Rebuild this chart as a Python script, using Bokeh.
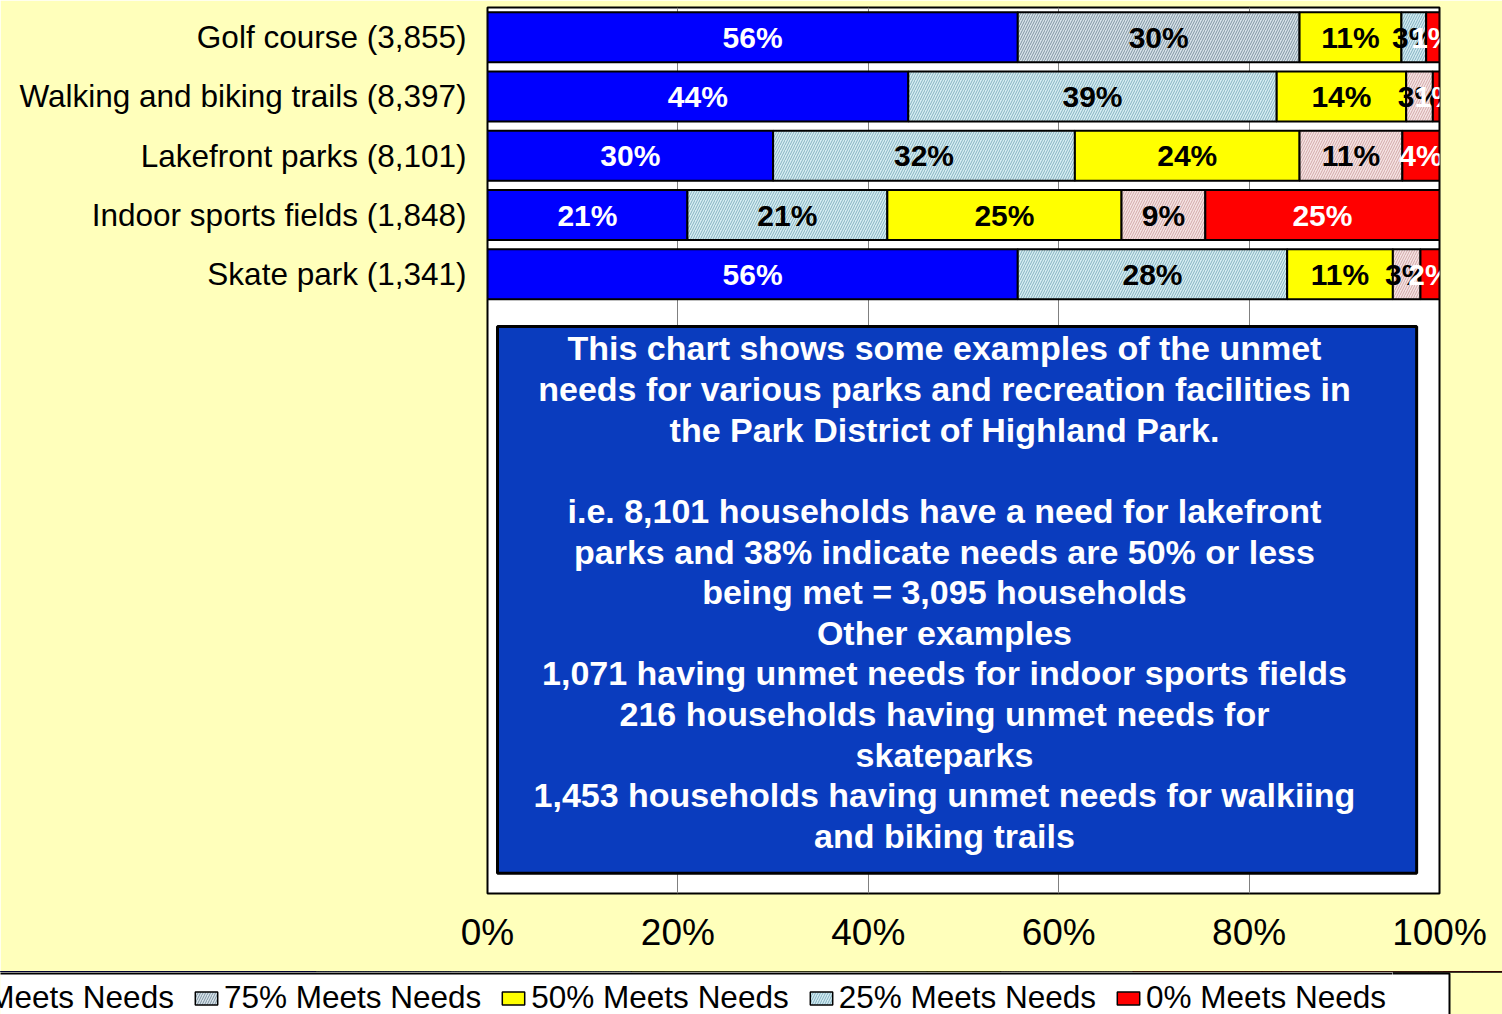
from bokeh.plotting import figure
from bokeh.models import (ColumnDataSource, Range1d, FixedTicker, Legend, LegendItem,
                          BoxAnnotation, Label)
from bokeh.embed import file_html
from bokeh.resources import INLINE
from bokeh.core.properties import value
import numpy as np

# ---------------- data ----------------
categories = ["Golf course (3,855)", "Walking and biking trails (8,397)",
              "Lakefront parks (8,101)", "Indoor sports fields (1,848)",
              "Skate park (1,341)"]
series_names = ["100% Meets Needs", "75% Meets Needs", "50% Meets Needs",
                "25% Meets Needs", "0% Meets Needs"]
meets_100 = [55.7, 44.2, 30.0, 21.0, 55.7]
meets_75 = [29.6, 38.7, 31.7, 21.0, 28.3]
meets_50 = [10.7, 13.6, 23.6, 24.6, 11.1]
meets_25 = [2.6, 2.8, 10.8, 8.8, 2.9]
meets_0 = [1.4, 0.7, 3.9, 24.6, 2.0]
x_ticks = [0, 20, 40, 60, 80, 100]
x_tick_labels = ["0%", "20%", "40%", "60%", "80%", "100%"]
note_lines = [
    "This chart shows some examples of the unmet",
    "needs for various parks and recreation facilities in",
    "the Park District of Highland Park.",
    "",
    "i.e. 8,101 households have a need for lakefront",
    "parks and 38% indicate needs are 50% or less",
    "being met = 3,095 households",
    "Other examples",
    "1,071 having unmet needs for indoor sports fields",
    "216 households having unmet needs for",
    "skateparks",
    "1,453 households having unmet needs for walkiing",
    "and biking trails",
]

# ---------------- styles ----------------
FONT = "Liberation Sans"
BG = "#ffffbb"
fills = [
    ["#0000ff"] * 5,
    ["#d9e3ea"] + ["#d8eef3"] * 4,
    ["#ffff00"] * 5,
    ["#d3ebf2"] + ["#f6e4e4"] * 4,
    ["#ff0000"] * 5,
]
hatch_cols = [
    ["#0000ff"] * 5,
    ["#67808f"] + ["#6fa3b3"] * 4,
    ["#ffff00"] * 5,
    ["#6fa3b3"] + ["#c79a9a"] * 4,
    ["#ff0000"] * 5,
]
hatches = [None, "/", None, "/", None]
text_colors = ["white", "black", "black", "black", "white"]

vals = np.array([meets_100, meets_75, meets_50, meets_25, meets_0], dtype=float)
rights = np.cumsum(vals, axis=0)
lefts = rights - vals
ypos = np.arange(len(categories)) + 0.5

# ---------------- main chart ----------------
p = figure(width=1502, height=971, output_backend="svg", toolbar_location=None,
           x_range=Range1d(0, 100), y_range=Range1d(14.94, 0),
           min_border_left=487, min_border_right=63, min_border_top=7,
           min_border_bottom=78)
p.border_fill_color = BG
p.background_fill_color = "white"
p.outline_line_color = "black"
p.outline_line_width = 2

p.xgrid.ticker = FixedTicker(ticks=x_ticks)
p.xgrid.grid_line_color = "#808080"
p.xgrid.grid_line_width = 1
p.ygrid.visible = False

p.xaxis.ticker = FixedTicker(ticks=x_ticks)
p.xaxis.major_label_overrides = {t: l for t, l in zip(x_ticks, x_tick_labels)}
p.yaxis.ticker = FixedTicker(ticks=list(ypos))
p.yaxis.major_label_overrides = {float(y): c for y, c in zip(ypos, categories)}
for ax in (p.xaxis, p.yaxis):
    ax.axis_line_color = None
    ax.major_tick_line_color = None
    ax.minor_tick_line_color = None
    ax.major_label_text_font = FONT
    ax.major_label_text_color = "black"
p.xaxis.major_label_text_font_size = "37px"
p.xaxis.major_label_standoff = 12
p.yaxis.major_label_text_font_size = "31.5px"
p.yaxis.major_label_standoff = 15

# ---------------- legend strip (separate root, full-width frame) ----------------
lg = figure(width=1502, height=43, output_backend="svg", toolbar_location=None,
            x_range=Range1d(0, 100), y_range=Range1d(-10, -9),
            x_axis_type=None, y_axis_type=None,
            min_border_left=0, min_border_right=0, min_border_top=0,
            min_border_bottom=0)
lg.border_fill_color = BG
lg.background_fill_color = BG
lg.outline_line_color = None
lg.grid.visible = False

leg_renderers = []
for k in range(len(series_names)):
    src = ColumnDataSource(dict(
        y=ypos, left=lefts[k], right=rights[k],
        mid=(lefts[k] + rights[k]) / 2,
        fill=fills[k], hatch=hatch_cols[k],
        label=["%d%%" % int(round(v)) for v in vals[k]],
    ))
    kw = dict(fill_color="fill", line_color="black", line_width=2)
    if hatches[k]:
        kw.update(hatch_pattern=hatches[k], hatch_color="hatch", hatch_scale=5,
                  hatch_weight=1, hatch_alpha=0.8)
    p.hbar(y="y", left="left", right="right", height=0.843, source=src, **kw)
    p.text(x="mid", y="y", text="label", source=src, text_color=text_colors[k],
           text_font=value(FONT), text_font_style="bold", text_font_size="30px",
           text_align="center", text_baseline="middle")
    leg_kw = dict(kw)
    leg_kw["line_width"] = 1.5
    r = lg.hbar(y="y", left="left", right="right", height=0.843, source=src, **leg_kw)
    leg_renderers.append(r)

box = BoxAnnotation(left=1.05, right=97.6, top=5.38, bottom=14.6,
                    fill_color="#0a3cbe", fill_alpha=1, line_color="black",
                    line_width=3, line_alpha=1)
p.add_layout(box)
for i, line in enumerate(note_lines):
    if not line:
        continue
    p.add_layout(Label(x=48.0, y=5.75 + 0.685 * i, text=line, text_color="white",
                       text_font=FONT, text_font_style="bold", text_font_size="34px",
                       text_align="center", text_baseline="middle"))

# legend frame box (wider than its items, like the original); screen y is bottom-up
leg_box = BoxAnnotation(left=-10, right=1449, top=41, bottom=-80,
                        left_units="screen", right_units="screen",
                        top_units="screen", bottom_units="screen",
                        fill_color="white", fill_alpha=1, line_color="black",
                        line_width=2, line_alpha=1)
lg.add_layout(leg_box)

legend = Legend(items=[LegendItem(label=n, renderers=[r], index=0)
                       for n, r in zip(series_names, leg_renderers)],
                orientation="horizontal", location=(-140, -9),
                glyph_width=28, glyph_height=16, label_standoff=4, spacing=18,
                padding=6, margin=0, label_height=36, label_text_font=FONT,
                label_text_font_size="31.5px", label_text_color="black",
                label_text_baseline="middle",
                border_line_color="white", border_line_width=1,
                background_fill_color="white", background_fill_alpha=0)
lg.add_layout(legend)

open("out.html", "w").write(file_html([p, lg], INLINE))
